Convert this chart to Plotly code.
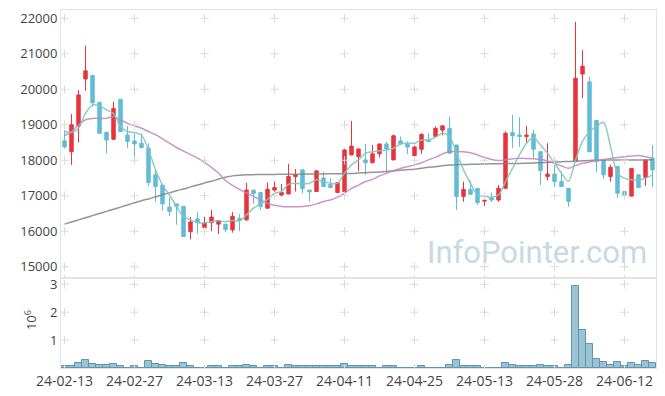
import plotly.graph_objects as go

dates = [
    "2024-02-13", "2024-02-14", "2024-02-15", "2024-02-16", "2024-02-19", "2024-02-20", "2024-02-21",
    "2024-02-22", "2024-02-23", "2024-02-26", "2024-02-27", "2024-02-28", "2024-02-29",
    "2024-03-04", "2024-03-05", "2024-03-06", "2024-03-07", "2024-03-08", "2024-03-11", "2024-03-12",
    "2024-03-13", "2024-03-14", "2024-03-15", "2024-03-18", "2024-03-19", "2024-03-20", "2024-03-21",
    "2024-03-22", "2024-03-25", "2024-03-26", "2024-03-27", "2024-03-28", "2024-03-29",
    "2024-04-01", "2024-04-02", "2024-04-03", "2024-04-04", "2024-04-05", "2024-04-08", "2024-04-09",
    "2024-04-11", "2024-04-12", "2024-04-15", "2024-04-16", "2024-04-17", "2024-04-18", "2024-04-19",
    "2024-04-22", "2024-04-23", "2024-04-24", "2024-04-25", "2024-04-26", "2024-04-29", "2024-04-30",
    "2024-05-02", "2024-05-03", "2024-05-07", "2024-05-08", "2024-05-09", "2024-05-10", "2024-05-13",
    "2024-05-14", "2024-05-16", "2024-05-17", "2024-05-20", "2024-05-21", "2024-05-22", "2024-05-23",
    "2024-05-24", "2024-05-27", "2024-05-28", "2024-05-29", "2024-05-30", "2024-05-31",
    "2024-06-03", "2024-06-04", "2024-06-05", "2024-06-07", "2024-06-10", "2024-06-11", "2024-06-12",
    "2024-06-13", "2024-06-14", "2024-06-17", "2024-06-18",
]

opens = [
    18550, 18240, 18970, 20290, 20390, 19630, 18790, 18590, 19720, 18710,
    18545, 18480, 18340, 17590, 17300, 16680, 16770, 16700, 15990, 16350,
    16100, 16240, 16200, 16200, 16040, 16360, 16320, 17160, 17090, 16650,
    17160, 17020, 17050, 17540, 17730, 17160, 17120, 17500, 17320, 17090,
    17120, 18150, 18100, 18010, 17930, 18180, 18460, 18010, 18545, 18460,
    18130, 18310, 18570, 18670, 18850, 18900, 18430, 16980, 17180, 17210,
    16850, 16950, 16880, 17210, 18780, 18710, 18670, 18740, 18240, 17540,
    17610, 17400, 17210, 17960, 20430, 20210, 19120, 18010, 17540, 17820,
    17120, 16990, 17590, 17520, 18060,
]
highs = [
    18850, 19300, 19980, 21230, 20390, 19650, 18790, 19650, 19720, 18970,
    18760, 18760, 18480, 17750, 17300, 16950, 16770, 16700, 16400, 16550,
    16410, 16600, 16320, 16200, 16540, 16480, 17360, 17160, 17100, 17370,
    17400, 17330, 17900, 17750, 17730, 17160, 17720, 17680, 17490, 17370,
    18320, 19110, 18320, 18460, 18430, 18460, 18520, 18720, 18670, 18530,
    18410, 18760, 18760, 18950, 18970, 19230, 18430, 17400, 17430, 17210,
    16960, 17090, 17300, 18810, 19280, 19210, 18970, 18860, 18250, 18480,
    17870, 17680, 17210, 21900, 21100, 20350, 19130, 18010, 17870, 17830,
    17130, 17770, 17600, 18010, 18430,
]
lows = [
    18330, 17870, 18500, 19960, 19510, 18740, 18200, 18570, 18800, 18340,
    17990, 18330, 17280, 16830, 16580, 16430, 16180, 15850, 15770, 15930,
    16090, 16000, 15920, 15970, 15960, 16000, 16300, 16770, 16600, 16630,
    16900, 16980, 17040, 17120, 17070, 16830, 17110, 17250, 17220, 17080,
    17100, 18140, 17690, 17590, 17920, 18080, 17650, 18000, 18450, 18180,
    18120, 18180, 18520, 18660, 18700, 18190, 16600, 16830, 17030, 16740,
    16710, 16820, 16830, 17200, 18340, 18380, 18480, 18060, 17300, 17430,
    17240, 17250, 16690, 17950, 19750, 18240, 17660, 17470, 17400, 16930,
    17010, 16980, 17230, 17280, 17240,
]
closes = [
    18380, 19000, 19840, 20520, 19620, 18760, 18570, 19460, 18810, 18530,
    18460, 18360, 17370, 17260, 16770, 16560, 16700, 15850, 16260, 16250,
    16240, 16400, 16300, 16050, 16420, 16310, 17160, 17060, 16700, 17180,
    17230, 17090, 17540, 17590, 17200, 17110, 17700, 17260, 17230, 17370,
    18290, 18400, 18320, 17930, 18180, 18460, 18320, 18690, 18460, 18370,
    18370, 18730, 18530, 18900, 18970, 18200, 16980, 17180, 17040, 16810,
    16870, 16880, 17210, 18760, 18690, 18670, 18710, 18310, 17710, 17610,
    17400, 17260, 16840, 20310, 20650, 18240, 17960, 17590, 17800, 17070,
    17020, 17770, 17230, 18010, 17730,
]

ma5 = [
    18810, 18780, 18900, 19320, 19560, 19530, 19420, 19320, 18950, 18810,
    18780, 18710, 18290, 17730, 17300, 17020, 16700, 16410, 16320, 16240,
    16240, 16270, 16300, 16270, 16300, 16290, 16460, 16650, 16770, 16900,
    17070, 17120, 17320, 17350, 17330, 17350, 17450, 17400, 17350, 17350,
    17630, 17870, 18010, 18200, 18240, 18270, 18290, 18340, 18460, 18480,
    18480, 18570, 18570, 18650, 18760, 18670, 18200, 17730, 17350, 17020,
    16980, 16960, 17020, 17400, 17770, 18150, 18480, 18640, 18430, 18200,
    17920, 17630, 17400, 18010, 18530, 18810, 18950, 19070, 18390, 17630,
    17490, 17450, 17450, 17490, 17590,
]
ma20 = [
    18690, 18810, 19000, 19140, 19180, 19180, 19180, 19230, 19140, 19040,
    18970, 18900, 18810, 18720, 18600, 18480, 18360, 18260, 18160, 18060,
    17940, 17800, 17640, 17430, 17290, 17180, 17080, 16980, 16880, 16790,
    16730, 16700, 16690, 16690, 16700, 16720, 16770, 16840, 16880, 16960,
    17070, 17210, 17300, 17400, 17460, 17560, 17630, 17710, 17770, 17820,
    17870, 17930, 18010, 18080, 18180, 18240, 18250, 18240, 18210, 18150,
    18080, 18020, 17990, 18010, 18040, 18055, 18050, 18040, 18028, 17980,
    17915, 17840, 17775, 17850, 17915, 17950, 17990, 18020, 18050, 18075,
    18100, 18120, 18131, 18100, 18060,
]
ma60 = [
    16200, 16260, 16320, 16380, 16440, 16500, 16560, 16620, 16680, 16740,
    16800, 16860, 16910, 16970, 17030, 17080, 17140, 17190, 17250, 17300,
    17360, 17410, 17470, 17520, 17560, 17580, 17590, 17595, 17598, 17600,
    17602, 17604, 17606, 17608, 17610, 17612, 17614, 17616, 17618, 17620,
    17625, 17630, 17640, 17650, 17660, 17670, 17680, 17700, 17720, 17735,
    17750, 17775, 17800, 17820, 17845, 17865, 17875, 17880, 17885, 17890,
    17895, 17900, 17900, 17905, 17910, 17912, 17915, 17920, 17930, 17940,
    17950, 17960, 17965, 17975, 17985, 17995, 18000, 18003, 18005, 18007,
    18008, 18010, 18010, 18010, 18012,
]

volume_m = [
    0.07, 0.07, 0.19, 0.30, 0.15, 0.11, 0.11, 0.15, 0.08, 0.004,
    0.07, 0.004, 0.25, 0.15, 0.11, 0.07, 0.07, 0.19, 0.07, 0.004,
    0.004, 0.07, 0.07, 0.004, 0.07, 0.07, 0.12, 0.07, 0.004, 0.07,
    0.07, 0.004, 0.11, 0.07, 0.07, 0.07, 0.07, 0.07, 0.07, 0.07,
    0.14, 0.07, 0.07, 0.07, 0.07, 0.004, 0.07, 0.07, 0.004, 0.004,
    0.004, 0.07, 0.004, 0.004, 0.004, 0.11, 0.29, 0.07, 0.07, 0.07,
    0.004, 0.004, 0.004, 0.18, 0.11, 0.07, 0.07, 0.07, 0.11, 0.07,
    0.07, 0.004, 0.11, 2.93, 1.36, 0.87, 0.32, 0.23, 0.11, 0.23,
    0.07, 0.19, 0.12, 0.25, 0.19,
]

price_ticks = [15000, 16000, 17000, 18000, 19000, 20000, 21000, 22000]
volume_ticks = [1, 2, 3]
x_tick_dates = dates[::10]
x_tick_labels = [d[2:] for d in x_tick_dates]

RED = "#e8343d"
BLUE = "#62bcd6"
FRAME = "#e3e3e3"
CROSS = "#dadada"
FONT = "Open Sans"

fig = go.Figure()

fig.add_trace(go.Candlestick(
    x=dates, open=opens, high=highs, low=lows, close=closes,
    xaxis="x", yaxis="y", showlegend=False, whiskerwidth=0,
    increasing=dict(line=dict(color=RED, width=1), fillcolor=RED),
    decreasing=dict(line=dict(color=BLUE, width=1), fillcolor=BLUE),
))

for vals, col in [(ma60, "rgba(130,130,130,0.85)"), (ma20, "rgba(195,130,195,0.85)"),
                  (ma5, "rgba(130,200,185,0.9)")]:
    fig.add_trace(go.Scatter(
        x=dates, y=vals, mode="lines", xaxis="x", yaxis="y", showlegend=False,
        hoverinfo="skip", line=dict(color=col, width=1.5, shape="spline", smoothing=0.8),
    ))

fig.add_trace(go.Bar(
    x=dates, y=volume_m, xaxis="x2", yaxis="y2", showlegend=False,
    marker=dict(color="#9bc3d4", line=dict(color="#5f95ae", width=1)),
))

# grid crosses at tick intersections
fig.add_trace(go.Scatter(
    x=[d for d in x_tick_dates for _ in price_ticks],
    y=[p for _ in x_tick_dates for p in price_ticks],
    mode="markers", xaxis="x", yaxis="y", hoverinfo="skip", showlegend=False,
    marker=dict(symbol="cross-thin", size=6, line=dict(color=CROSS, width=1)),
))
fig.add_trace(go.Scatter(
    x=[d for d in x_tick_dates for _ in volume_ticks],
    y=[v for _ in x_tick_dates for v in volume_ticks],
    mode="markers", xaxis="x2", yaxis="y2", hoverinfo="skip", showlegend=False,
    marker=dict(symbol="cross-thin", size=6, line=dict(color=CROSS, width=1)),
))

split = 90 / 358

axis_common = dict(showgrid=False, zeroline=False, showline=True, linecolor=FRAME,
                   linewidth=1, mirror=True, automargin=False)

fig.update_layout(
    width=665, height=396,
    margin=dict(l=61, r=9, t=10, b=28),
    paper_bgcolor="white", plot_bgcolor="white",
    font=dict(family=FONT, size=13, color="#444"),
    bargap=0,
    xaxis=dict(type="category", categoryorder="array", categoryarray=dates,
               range=[-0.5, 84.5], anchor="y", domain=[0, 1],
               showticklabels=False, tickvals=x_tick_dates, ticks="inside", ticklen=3,
               tickcolor=CROSS, rangeslider=dict(visible=False), **axis_common),
    xaxis2=dict(type="category", categoryorder="array", categoryarray=dates,
                range=[-0.5, 84.5], anchor="y2", domain=[0, 1],
                tickvals=x_tick_dates, ticktext=x_tick_labels, ticks="inside", ticklen=3,
                tickcolor=CROSS, tickfont=dict(size=14, color="#444"), **axis_common),
    yaxis=dict(domain=[split, 1], range=[14682, 22234], tickvals=price_ticks,
               tickformat="d", ticks="", tickfont=dict(size=13, color="#444"), **axis_common),
    yaxis2=dict(domain=[0, split], range=[0, 3.225], tickvals=volume_ticks,
                tickformat="d", ticks="", tickfont=dict(size=13, color="#444"), **axis_common),
    annotations=[
        dict(text="InfoPointer.com", xref="paper", yref="paper", x=0.988, y=0.322,
             xanchor="right", yanchor="middle", showarrow=False,
             font=dict(family="Roboto", size=31, color="#c6d9e5")),
        dict(text="10<sup>6</sup>", xref="paper", yref="paper", x=-0.052, y=0.134,
             xanchor="center", yanchor="middle", showarrow=False, textangle=-90,
             font=dict(size=13, color="#444")),
    ],
)

fig.write_html("out.html", config={"displayModeBar": False},
               post_script="document.body.style.margin='0';")
